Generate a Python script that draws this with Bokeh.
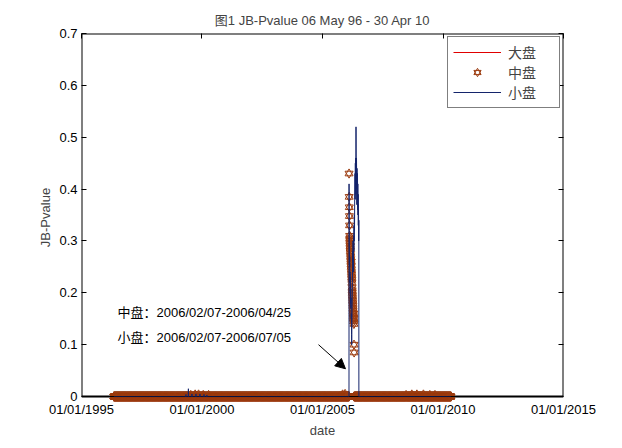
import numpy as np
import pandas as pd
from bokeh.plotting import figure
from bokeh.models import (Range1d, FixedTicker, DatetimeTickFormatter, LinearAxis,
                          DatetimeAxis, Legend, LegendItem, Label, Arrow, NormalHead,
                          CustomJSTickFormatter)
from bokeh.embed import file_html
from bokeh.resources import INLINE

# ---------------- data ----------------
title_text = "图1 JB-Pvalue 06 May 96 - 30 Apr 10"
series_names = ["大盘", "中盘", "小盘"]
series_start = "1996-05-06"
series_end = "2010-04-30"

x_start_date = "1995-01-01"
x_end_date = "2015-01-01"
x_tick_dates = ["1995-01-01", "2000-01-01", "2005-01-01", "2010-01-01", "2015-01-01"]
y_tick_values = [0, 0.1, 0.2, 0.3, 0.4, 0.5, 0.6, 0.7]
y_top = 0.7

# 中盘 non-zero period
mid_spike_start = "2006-02-07"
mid_spike_end = "2006-04-25"
mid_spike_values = [0.43, 0.385, 0.365, 0.348, 0.33, 0.31, 0.305, 0.30, 0.295, 0.29,
                    0.285, 0.28, 0.29, 0.275, 0.27, 0.265, 0.26, 0.255, 0.25, 0.26,
                    0.245, 0.24, 0.235, 0.23, 0.225, 0.22, 0.21, 0.205, 0.20, 0.195,
                    0.19, 0.185, 0.18, 0.175, 0.17, 0.165, 0.16, 0.155, 0.15, 0.145,
                    0.16, 0.15, 0.14, 0.10, 0.085]
mid_bump_dates = ["1999-07-15", "1999-09-20", "1999-11-10", "2000-01-20", "2000-04-10",
                  "2005-11-01", "2005-12-10", "2008-06-20", "2008-09-15", "2008-12-01",
                  "2009-03-10", "2009-06-15", "2009-09-01"]
mid_bump_values = [0.003, 0.004, 0.004, 0.003, 0.003,
                   0.004, 0.005, 0.003, 0.004, 0.004,
                   0.004, 0.003, 0.003]

# 小盘 non-zero period
small_spike_start = "2006-02-07"
small_spike_end = "2006-07-05"
small_spike_values = [0.41, 0.30, 0.28, 0.25, 0.27, 0.22, 0.24, 0.20, 0.23, 0.18,
                      0.21, 0.17, 0.19, 0.15, 0.16, 0.12, 0.10, 0.13, 0.16, 0.19,
                      0.22, 0.25, 0.28, 0.26, 0.30, 0.27, 0.24, 0.29, 0.31, 0.28,
                      0.33, 0.30, 0.35, 0.32, 0.38, 0.40, 0.43, 0.38, 0.45, 0.41,
                      0.46, 0.39, 0.52, 0.44, 0.40, 0.46, 0.42, 0.37, 0.44, 0.40,
                      0.38, 0.43, 0.36, 0.41, 0.35, 0.39, 0.33, 0.37, 0.30, 0.34]
small_bump_dates = ["1999-05-03", "1999-06-08", "1999-06-09", "1999-06-10", "1999-08-02",
                    "1999-10-01", "1999-12-01", "2000-02-01", "2000-03-15"]
small_bump_values = [0.004, 0.006, 0.015, 0.006, 0.005,
                     0.005, 0.005, 0.004, 0.003]

# 大盘 stays at zero across the whole sample
large_spike_values = []

note_mid = "中盘：2006/02/07-2006/04/25"
note_small = "小盘：2006/02/07-2006/07/05"


def build(spike_start, spike_end, spike_vals, bump_dates, bump_vals):
    days = pd.bdate_range(series_start, series_end)
    vals = pd.Series(0.0, index=days)
    for d, v in zip(bump_dates, bump_vals):
        idx = days.get_indexer([pd.Timestamp(d)], method="nearest")[0]
        vals.iloc[idx] = v
    if len(spike_vals) == 0:
        return list(days), list(vals.values)
    s0, s1 = pd.Timestamp(spike_start), pd.Timestamp(spike_end)
    before = days[days < s0]
    after = days[days > s1]
    spike_days = pd.date_range(s0, s1, periods=len(spike_vals))
    xs = list(before) + list(spike_days) + list(after)
    ys = list(vals[before].values) + list(spike_vals) + list(vals[after].values)
    return xs, ys


large_x, large_y = build(None, None, large_spike_values, [], [])
mid_x, mid_y = build(mid_spike_start, mid_spike_end, mid_spike_values, mid_bump_dates, mid_bump_values)
small_x, small_y = build(small_spike_start, small_spike_end, small_spike_values, small_bump_dates, small_bump_values)


def ms(d):
    return pd.Timestamp(d).value / 1e6


# ---------------- figure ----------------
LAT = "Liberation Sans, Noto Sans CJK SC"
RED = "#e00000"
BROWN = "#9c3c10"
NAVY = "#14246b"

W, H = 614, 440
B_LEFT, B_RIGHT, B_TOP, B_BOTTOM = 81, 51, 33, 36
frame_h = H - B_TOP - B_BOTTOM
zero_px = 366.0  # pixel height from 0 to 0.7 (lets markers at 0 overhang below the axis)
y_bottom = -y_top * (frame_h - zero_px) / zero_px

p = figure(width=W, height=H, x_axis_type="datetime",
           x_range=Range1d(pd.Timestamp(x_start_date), pd.Timestamp(x_end_date)),
           y_range=Range1d(y_bottom, y_top),
           output_backend="svg", toolbar_location=None,
           min_border_left=B_LEFT, min_border_right=B_RIGHT,
           min_border_top=B_TOP, min_border_bottom=B_BOTTOM,
           background_fill_color="white", border_fill_color="white")

p.title.text = title_text
p.title.align = "center"
p.title.text_font = LAT
p.title.text_font_size = "13px"
p.title.text_font_style = "normal"
p.title.standoff = 11

p.xgrid.visible = False
p.ygrid.visible = False
p.outline_line_color = None

xt = FixedTicker(ticks=[ms(d) for d in x_tick_dates])
fmt = "%m/%d/%Y"
xfmt = DatetimeTickFormatter(milliseconds=fmt, seconds=fmt, minsec=fmt, minutes=fmt,
                             hourmin=fmt, hours=fmt, days=fmt, months=fmt, years=fmt)
yt = FixedTicker(ticks=y_tick_values)
blank = CustomJSTickFormatter(code="return ''")

for ax in p.xaxis:
    ax.ticker = xt
    ax.formatter = xfmt
    ax.axis_label = "date"
    ax.major_tick_in = 0
    ax.major_label_standoff = 0
for ax in p.yaxis:
    ax.ticker = yt
    ax.axis_label = "JB-Pvalue"
    ax.major_tick_in = 5
    ax.major_label_standoff = 4

for ax in list(p.xaxis) + list(p.yaxis):
    ax.major_tick_out = 0
    ax.minor_tick_in = 0
    ax.minor_tick_out = 0
    ax.major_label_text_font = LAT
    ax.major_label_text_font_size = "13px"
    ax.major_label_text_color = "black"
    ax.axis_label_text_font = LAT
    ax.axis_label_text_font_size = "13px"
    ax.axis_label_text_font_style = "normal"
    ax.axis_label_standoff = 3
    ax.axis_line_color = None
    ax.major_tick_line_color = "black"

top_ax = DatetimeAxis(ticker=xt, formatter=blank, major_tick_in=5, major_tick_out=0,
                      minor_tick_in=0, minor_tick_out=0, major_label_standoff=0,
                      axis_line_color=None)
right_ax = LinearAxis(ticker=yt, formatter=blank, major_tick_in=5, major_tick_out=0,
                      minor_tick_in=0, minor_tick_out=0, major_label_standoff=0,
                      axis_line_color=None)
p.add_layout(top_ax, "above")
p.add_layout(right_ax, "right")

# axes box: drawn at y = 0 .. 0.7 and at the x-range ends
x0, x1 = pd.Timestamp(x_start_date), pd.Timestamp(x_end_date)
p.segment(x0=[x0, x0, x1, x0], y0=[0, 0, 0, y_top], x1=[x1, x0, x1, x1], y1=[0, y_top, y_top, y_top],
          line_color="black", line_width=2)

r_large = p.line(large_x, large_y, line_color=RED, line_width=1)
r_mid1 = p.scatter(mid_x, mid_y, marker="triangle", size=8, fill_color=None,
                   line_color=BROWN, line_width=1)
r_mid2 = p.scatter(mid_x, mid_y, marker="inverted_triangle", size=8, fill_color=None,
                   line_color=BROWN, line_width=1)
p.segment(x0=[x0], y0=[0], x1=[x1], y1=[0], line_color="black", line_width=1)
r_small = p.line(small_x, small_y, line_color=NAVY, line_width=1)

legend = Legend(items=[LegendItem(label=series_names[0], renderers=[r_large]),
                       LegendItem(label=series_names[1], renderers=[r_mid1, r_mid2]),
                       LegendItem(label=series_names[2], renderers=[r_small])],
                location="top_right")
legend.border_line_color = "black"
legend.border_line_width = 1
legend.background_fill_color = "white"
legend.background_fill_alpha = 1
legend.label_text_font = "Noto Sans CJK SC"
legend.label_text_font_size = "14px"
legend.glyph_width = 48
legend.glyph_height = 18
legend.label_height = 18
legend.label_width = 46
legend.label_standoff = 7
legend.padding = 5
legend.spacing = 0
legend.margin = 3
p.add_layout(legend)

for txt, yv in [(note_mid, 0.1625), (note_small, 0.1147)]:
    p.add_layout(Label(x=ms("1996-06-29"), y=yv, text=txt, text_font=LAT,
                       text_font_size="13px", text_baseline="middle", text_color="black"))

p.add_layout(Arrow(end=NormalHead(size=10, fill_color="black", line_color="black"),
                   x_start=ms("2004-11-01"), y_start=0.10,
                   x_end=ms("2005-12-15"), y_end=0.0535,
                   line_color="black", line_width=1))

open("out.html", "w").write(file_html(p, INLINE))
